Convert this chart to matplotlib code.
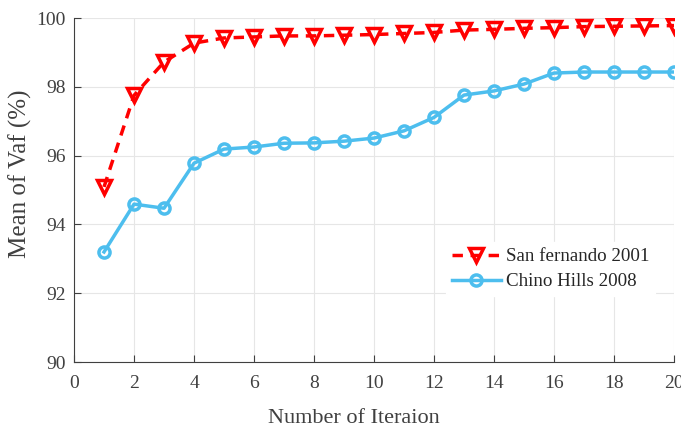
import numpy as np
import matplotlib.pyplot as plt

plt.rcParams['font.family'] = ['Liberation Serif', 'DejaVu Serif']

iterations = list(range(1, 21))
san_fernando = [95.09, 97.75, 98.72, 99.27, 99.42, 99.45, 99.48, 99.48, 99.50, 99.52,
                99.55, 99.58, 99.65, 99.67, 99.70, 99.72, 99.75, 99.76, 99.77, 99.78]
chino_hills = [93.20, 94.59, 94.47, 95.78, 96.19, 96.25, 96.36, 96.37, 96.42, 96.51,
               96.72, 97.11, 97.76, 97.88, 98.08, 98.40, 98.43, 98.43, 98.43, 98.43]

fig = plt.figure(figsize=(6.81, 4.30), dpi=100)
ax = fig.add_axes([0.1087, 0.1581, 0.881, 0.80])

ax.plot(iterations, san_fernando, '--', color='red', lw=2.5, marker='v', ms=10,
        mfc='none', mew=2.5, dashes=(3, 2.2), label='San fernando 2001', zorder=3)
ax.plot(iterations, chino_hills, '-', color='#4DBEEE', lw=2.5, marker='o', ms=8,
        mfc='none', mew=2.5, label='Chino Hills 2008', zorder=3)

ax.set_xlim(0, 20)
ax.set_ylim(90, 100)
ax.set_xticks(np.arange(0, 21, 2))
ax.set_yticks(np.arange(90, 101, 2))
ax.grid(True, color='#e6e6e6', lw=0.8)
ax.set_axisbelow(True)
for s in ['top', 'right']:
    ax.spines[s].set_visible(False)
for s in ['left', 'bottom']:
    ax.spines[s].set_color('#404040')
ax.tick_params(direction='in', length=5, colors='#404040', labelsize=14)
ax.tick_params(axis='x', pad=9)
ax.tick_params(axis='y', pad=6)

ax.set_xlabel('Number of Iteraion', fontsize=16, color='#404040')
ax.set_ylabel('Mean of Vaf (%)', fontsize=18, color='#404040')
ax.xaxis.set_label_coords(0.467, -0.138)
ax.yaxis.set_label_coords(-0.07, 0.547)

leg = ax.legend(loc='center left', bbox_to_anchor=(0.62, 0.27), borderaxespad=0,
                frameon=True, fontsize=13.7, handlelength=2.6, handletextpad=0.25,
                borderpad=0.3, labelspacing=0.4)
leg.get_frame().set_edgecolor('white')
leg.get_frame().set_facecolor('white')
leg.get_frame().set_alpha(1)
for t in leg.get_texts():
    t.set_color('#262626')

fig.savefig('out.png', dpi=100)
